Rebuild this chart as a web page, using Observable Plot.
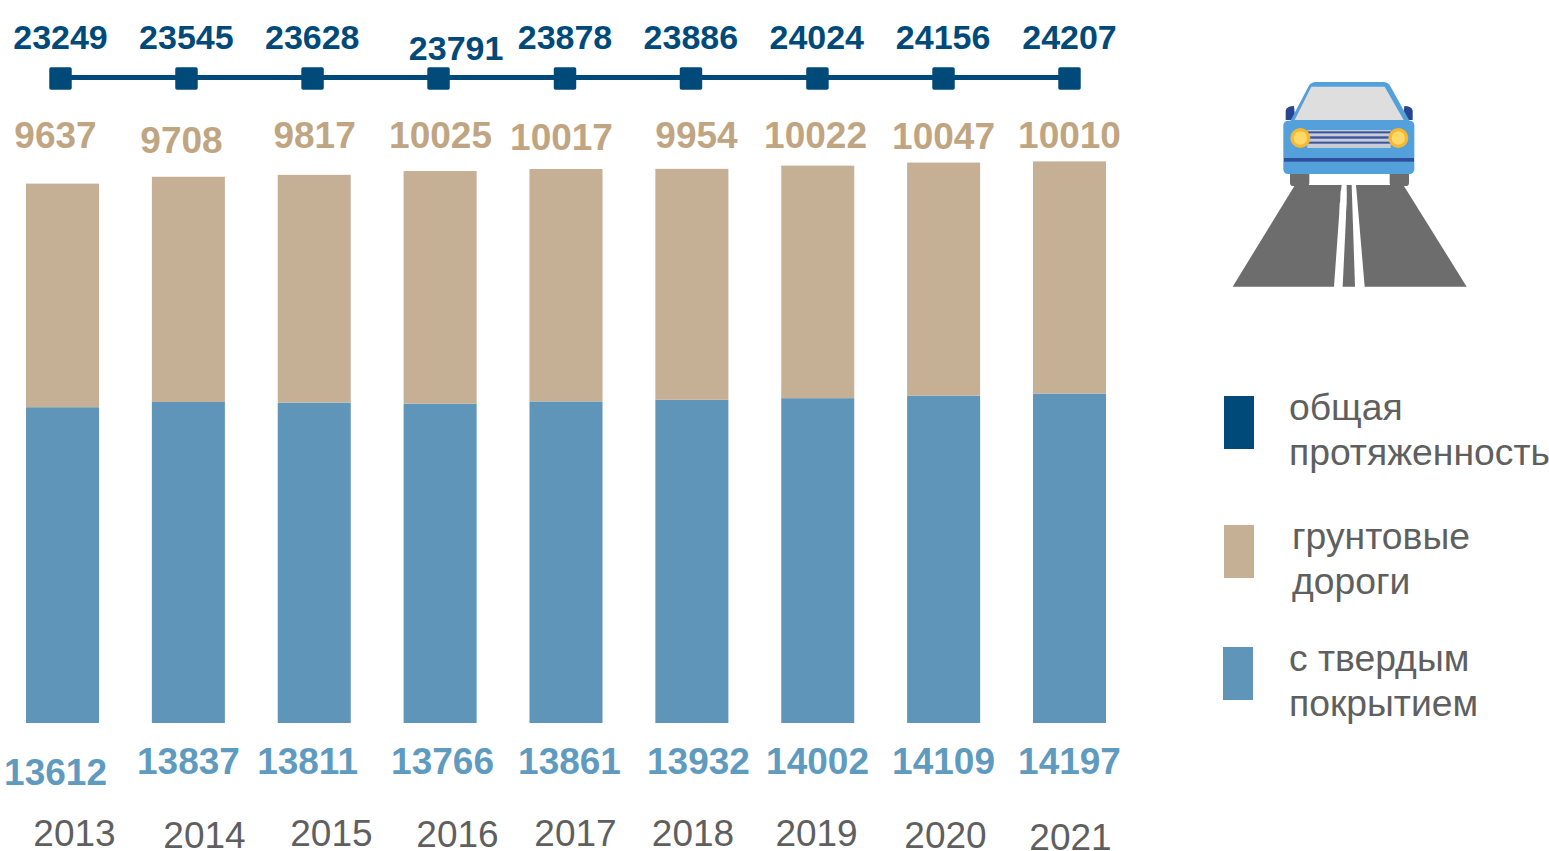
<!DOCTYPE html>
<html lang="ru">
<head>
<meta charset="utf-8">
<title>Протяженность дорог</title>
<script src="https://cdn.jsdelivr.net/npm/d3@7"></script>
<script src="https://cdn.jsdelivr.net/npm/@observablehq/plot@0.6"></script>
<style>
  html, body { margin: 0; padding: 0; background: #fff; overflow: hidden; }
  #stage { position: relative; width: 1549px; height: 851px; font-family: "Liberation Sans", Arial, sans-serif; }
  #chart { position: absolute; left: 0; top: 0; }
  #chart svg { display: block; }
  #car { position: absolute; left: 1220px; top: 70px; }
  .swatch { position: absolute; width: 30px; height: 53px; }
  .legend-text { position: absolute; color: #5f5f5f; font-size: 37.3px; line-height: 45px; white-space: nowrap; }
</style>
</head>
<body>
<div id="stage">
  <div id="chart"></div>
  <svg id="car" width="260" height="230" viewBox="0 0 780 690" aria-hidden="true">
    <polygon fill="#6d6d6d" points="225,345 365,345 362,372 342,650 38,650"/>
    <polygon fill="#6d6d6d" points="408,345 550,345 740,650 434,650"/>
    <polygon fill="#6d6d6d" points="380,345 395,345 405,650 368,650 378,440 378,430 380,400"/>
    <rect x="362" y="362" width="17" height="24" fill="#fff"/>
    <rect x="359" y="398" width="17" height="30" fill="#fff"/>
    <rect x="210" y="300" width="58" height="48" rx="10" fill="#6d6d6d"/>
    <rect x="509" y="300" width="58" height="48" rx="10" fill="#6d6d6d"/>
    <path d="M197 150 V122 Q200 108 222 108 L226 150 Z" fill="#27468f"/>
    <path d="M578 150 V122 Q575 108 553 108 L549 150 Z" fill="#27468f"/>
    <path d="M210 155 L265 50 Q272 36 288 36 H490 Q505 36 512 50 L570 155 Z" fill="#53a0da"/>
    <polygon points="224,150 274,50 494,50 551,150" fill="#dedede"/>
    <rect x="190" y="152" width="393" height="160" rx="14" fill="#53a0da"/>
    <rect x="192" y="264" width="390" height="11" fill="#2d4f9e"/>
    <rect x="262" y="180" width="250" height="54" fill="#c7cdd6"/>
    <rect x="262" y="184" width="250" height="6" fill="#3b529c"/>
    <rect x="262" y="199" width="250" height="7" fill="#3b529c"/>
    <rect x="262" y="215" width="250" height="6" fill="#3b529c"/>
    <circle cx="241" cy="204" r="30" fill="#f7b731"/>
    <circle cx="241" cy="204" r="20" fill="#fdd968"/>
    <circle cx="535" cy="204" r="30" fill="#f7b731"/>
    <circle cx="535" cy="204" r="20" fill="#fdd968"/>
  </svg>
  <div class="swatch" style="left:1224px;top:396px;background:#004a7a"></div>
  <div class="swatch" style="left:1224px;top:525px;background:#c5af95"></div>
  <div class="swatch" style="left:1223px;top:647px;background:#5f95b9"></div>
  <div class="legend-text" style="left:1289px;top:385px">общая<br>протяженность</div>
  <div class="legend-text" style="left:1292px;top:514px">грунтовые<br>дороги</div>
  <div class="legend-text" style="left:1289px;top:636px">с твердым<br>покрытием</div>
</div>
<script>
// Data
const years = [2013, 2014, 2015, 2016, 2017, 2018, 2019, 2020, 2021];
const totalLength = [23249, 23545, 23628, 23791, 23878, 23886, 24024, 24156, 24207];
const dirtRoads = [9637, 9708, 9817, 10025, 10017, 9954, 10022, 10047, 10010];
const pavedRoads = [13612, 13837, 13811, 13766, 13861, 13932, 14002, 14109, 14197];

// Hand placement of the labels, as in the reference: offset from the bar centre and row
const trackDx = [-2.5, -2.4, -2.2, -2.1, -1.5, -1.4, -0.8, -0.6, -0.5];
const totalDx = [-2.5, -2.5, -2.5, 15.5, -1.5, -1.5, -1.5, -1, -0.5];
const totalRow = [38, 38, 38, 49, 38, 38, 38, 38, 38];
const dirtDx = [-7.5, -7.4, -0.2, -0.1, -5, 4.1, -2.7, -0.6, -0.5];
const dirtRow = [136, 141, 136, 136, 138, 136, 136, 137, 136];
const pavedDx = [-7.5, -0.4, -7.2, 1.9, 3, 6.1, -0.7, -0.6, -0.5];
const pavedRow = [773, 762, 762, 762, 762, 762, 762, 762, 762];
const yearDx = [11.5, 15.6, 16.7, 16.9, 9, 0.6, -1.7, 1.4, 0.5];
const yearRow = [834, 836, 834, 835, 834, 834, 834, 836, 838];

const navy = "#004a7a", tan = "#c5af95", steel = "#5f95b9";
const font = '"Liberation Sans", Arial, sans-serif';

const rows = years.map((year, i) => ({
  year: String(year),
  total: totalLength[i],
  dirt: dirtRoads[i],
  paved: pavedRoads[i]
}));

// The total series is drawn as a flat track above the bars, not to the bar scale
const trackLevel = 27802;

const labels = (field, dxs, rowsY, opts) => rows.map((d, i) =>
  Plot.text([d], {
    x: "year",
    text: (r) => String(r[field]),
    frameAnchor: "top",
    lineAnchor: "middle",
    dx: dxs[i],
    dy: rowsY[i],
    fontFamily: font,
    ...opts
  })
);

const chart = Plot.plot({
  width: 1549,
  height: 851,
  marginLeft: 26,
  marginRight: 443,
  marginTop: 0,
  marginBottom: 128,
  style: { background: "transparent" },
  x: { type: "band", domain: years.map(String), paddingInner: 0.42, paddingOuter: 0, round: false, axis: null },
  y: { domain: [0, 31164], axis: null },
  marks: [
    Plot.barY(rows, { x: "year", y1: 0, y2: "paved", fill: steel }),
    Plot.barY(rows, { x: "year", y1: "paved", y2: "total", fill: tan }),
    ...rows.slice(1).map((d, i) =>
      Plot.line([rows[i], d], { x: "year", y: () => trackLevel, stroke: navy, strokeWidth: 5, dx: trackDx[i], dy: -1 })
    ),
    ...rows.map((d, i) =>
      Plot.dot([d], { x: "year", y: () => trackLevel, symbol: "square", r: 10.7, fill: navy, stroke: navy, strokeWidth: 3.5, strokeLinejoin: "round", dx: trackDx[i] })
    ),
    ...labels("total", totalDx, totalRow, { fill: navy, fontSize: 34, fontWeight: "bold" }),
    ...labels("dirt", dirtDx, dirtRow, { fill: "#bfa582", fontSize: 37, fontWeight: "bold" }),
    ...labels("paved", pavedDx, pavedRow, { fill: "#5f9bbf", fontSize: 37, fontWeight: "bold" }),
    ...labels("year", yearDx, yearRow, { fill: "#5f5f5f", fontSize: 37 })
  ]
});
document.getElementById("chart").appendChild(chart);
</script>
</body>
</html>
